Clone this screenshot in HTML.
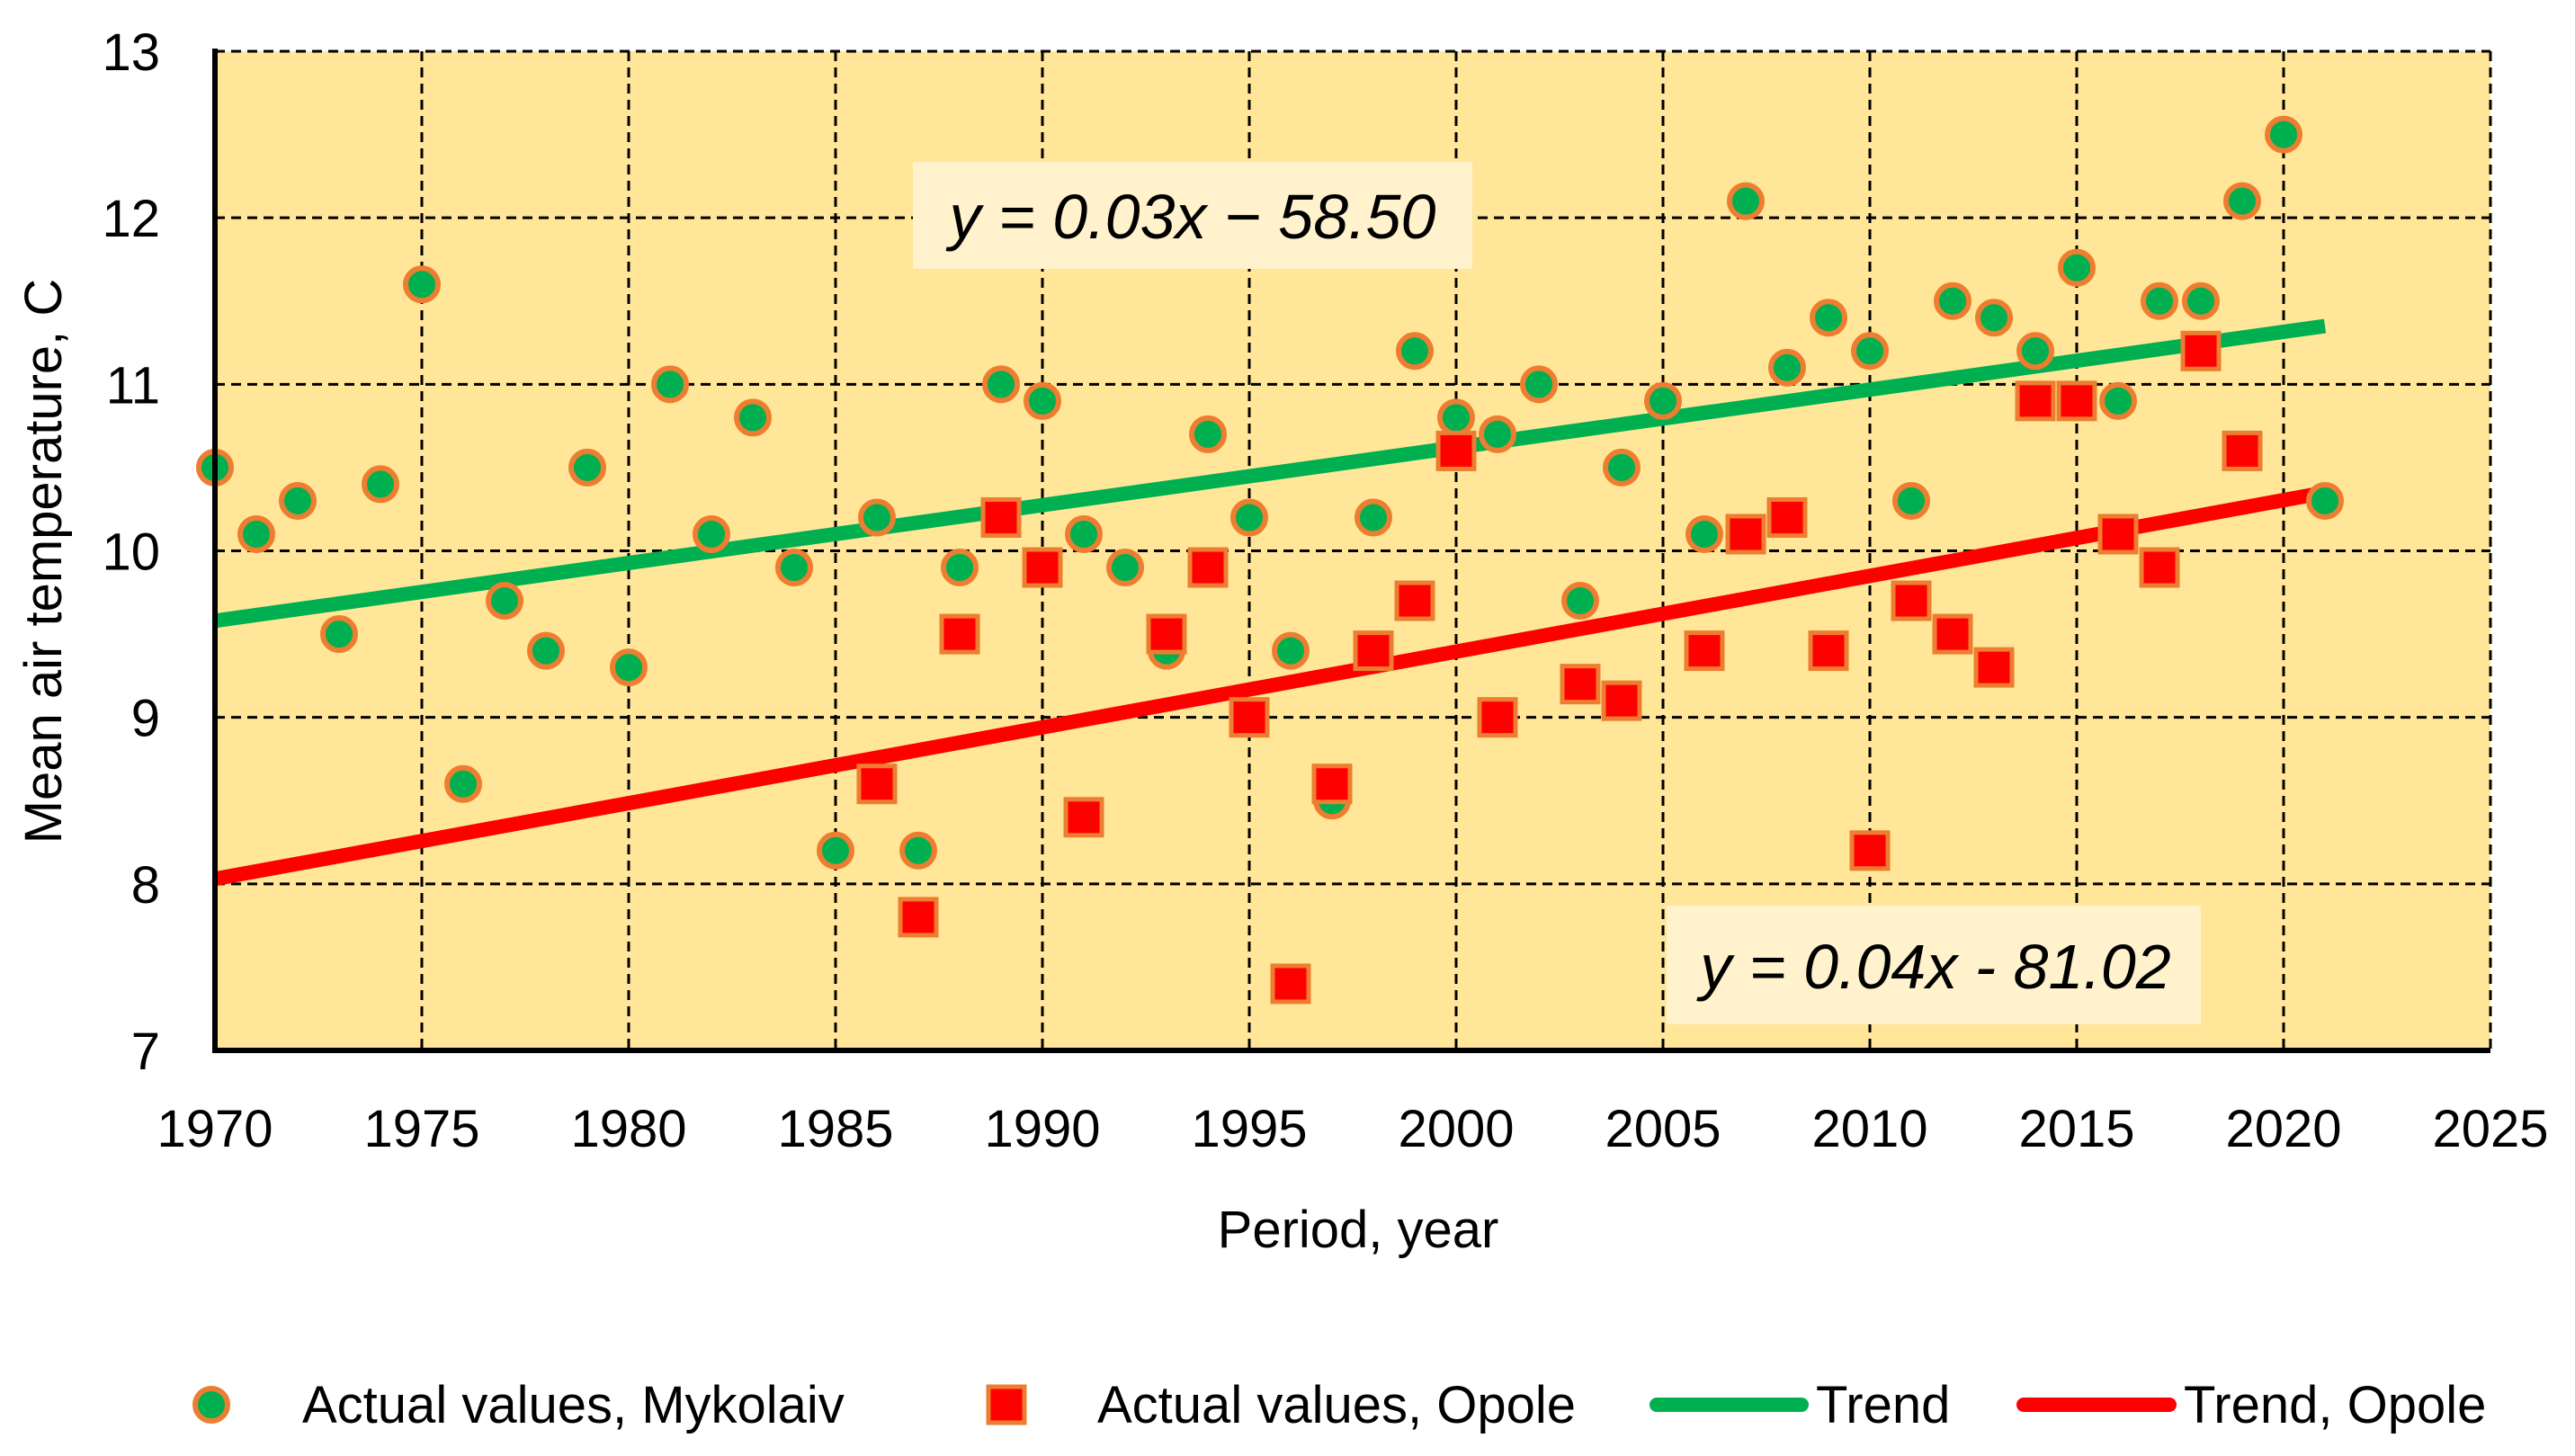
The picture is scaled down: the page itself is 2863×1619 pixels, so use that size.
<!DOCTYPE html>
<html><head><meta charset="utf-8"><style>
html,body{margin:0;padding:0;background:#fff}
svg{display:block;font-family:"Liberation Sans",sans-serif}
</style></head><body>
<svg id="chart" width="2863" height="1619" viewBox="0 0 2863 1619" xmlns="http://www.w3.org/2000/svg">
<rect x="239" y="57" width="2530" height="1111" fill="#FFE699"/>
<g id="grid"></g>
<g id="ticks"></g>
<g id="trends"></g>
<g id="marks"></g>
<line x1="239" y1="54" x2="239" y2="1171" stroke="#000" stroke-width="6"/>
<line x1="236" y1="1168" x2="2769" y2="1168" stroke="#000" stroke-width="6"/>
<g>
<rect x="1015" y="180" width="622" height="119" fill="#FFF2CC"/>
<text x="1326" y="265" font-size="70" font-style="italic" text-anchor="middle">y = 0.03x − 58.50</text>
</g>
<g>
<rect x="1853" y="1007" width="594" height="132" fill="#FFF2CC"/>
<text x="2152" y="1099" font-size="70" font-style="italic" text-anchor="middle">y = 0.04x - 81.02</text>
</g>
<text x="1510" y="1387" font-size="58" text-anchor="middle">Period, year</text>
<text transform="translate(68,624) rotate(-90)" font-size="58" text-anchor="middle">Mean air temperature, C</text>
<g>
<g>
<circle cx="235" cy="1562" r="18" fill="#00B050" stroke="#ED7D31" stroke-width="6"/>
<text x="336" y="1582" font-size="58">Actual values, Mykolaiv</text></g>
<g>
<rect x="1099" y="1542" width="40" height="40" fill="#FF0000" stroke="#ED7D31" stroke-width="5"/>
<text x="1220" y="1582" font-size="58">Actual values, Opole</text></g>
<g>
<line x1="1842" y1="1562" x2="2003" y2="1562" stroke="#00B050" stroke-width="16" stroke-linecap="round"/>
<text x="2019" y="1582" font-size="58">Trend</text></g>
<g>
<line x1="2250" y1="1562" x2="2412" y2="1562" stroke="#FF0000" stroke-width="16" stroke-linecap="round"/>
<text x="2428" y="1582" font-size="58">Trend, Opole</text></g>
</g>
</svg>
<script>
const xTicks=[1970,1975,1980,1985,1990,1995,2000,2005,2010,2015,2020,2025];
const yTicks=[7,8,9,10,11,12,13];
const mykYears=[1970,1971,1972,1973,1974,1975,1976,1977,1978,1979,1980,1981,1982,1983,1984,1985,1986,1987,1988,1989,1990,1991,1992,1993,1994,1995,1996,1997,1998,1999,2000,2001,2002,2003,2004,2005,2006,2007,2008,2009,2010,2011,2012,2013,2014,2015,2016,2017,2018,2019,2020,2021];
const mykTemps=[10.5,10.1,10.3,9.5,10.4,11.6,8.6,9.7,9.4,10.5,9.3,11.0,10.1,10.8,9.9,8.2,10.2,8.2,9.9,11.0,10.9,10.1,9.9,9.4,10.7,10.2,9.4,8.5,10.2,11.2,10.8,10.7,11.0,9.7,10.5,10.9,10.1,12.1,11.1,11.4,11.2,10.3,11.5,11.4,11.2,11.7,10.9,11.5,11.5,12.1,12.5,10.3];
const opoYears=[1986,1987,1988,1989,1990,1991,1993,1994,1995,1996,1997,1998,1999,2000,2001,2003,2004,2006,2007,2008,2009,2010,2011,2012,2013,2014,2015,2016,2017,2018,2019];
const opoTemps=[8.6,7.8,9.5,10.2,9.9,8.4,9.5,9.9,9.0,7.4,8.6,9.4,9.7,10.6,9.0,9.2,9.1,9.4,10.1,10.2,9.4,8.2,9.7,9.5,9.3,10.9,10.9,10.1,9.9,11.2,10.6];
const trendYears=[1970,2021];
const mykTrend=[9.58,11.35];
const opoTrend=[8.03,10.35];
const NS="http://www.w3.org/2000/svg";
const X=v=>239+(v-1970)*(2530/55);
const Y=v=>1168-(v-7)*(1111/6);
function mk(tag,attrs,parent){const e=document.createElementNS(NS,tag);for(const k in attrs)e.setAttribute(k,attrs[k]);parent.appendChild(e);return e;}
const grid=document.getElementById('grid'),ticks=document.getElementById('ticks'),trends=document.getElementById('trends'),marks=document.getElementById('marks');
xTicks.forEach(t=>{
  if(t>1970){const l=mk('line',{x1:X(t),y1:57,x2:X(t),y2:1168,stroke:'#000','stroke-width':3,'stroke-dasharray':'11 7'},grid);
  
  }
  const tx=mk('text',{x:X(t),y:1275,'font-size':58,'text-anchor':'middle'},ticks);tx.textContent=t;
  
  
});
yTicks.forEach(t=>{
  if(t>7){const l=mk('line',{x1:239,y1:Y(t),x2:2769,y2:Y(t),stroke:'#000','stroke-width':3,'stroke-dasharray':'11 7'},grid);
  
  }
  const tx=mk('text',{x:178,y:Y(t)+21,'font-size':58,'text-anchor':'end'},ticks);tx.textContent=t;
  
  
});
const g=mk('line',{x1:X(trendYears[0]),y1:Y(mykTrend[0]),x2:X(trendYears[1]),y2:Y(mykTrend[1]),stroke:'#00B050','stroke-width':16},trends);


const r=mk('line',{x1:X(trendYears[0]),y1:Y(opoTrend[0]),x2:X(trendYears[1]),y2:Y(opoTrend[1]),stroke:'#FF0000','stroke-width':16},trends);


mykYears.forEach((yr,i)=>{
  const c=mk('circle',{cx:X(yr),cy:Y(mykTemps[i]),r:18,fill:'#00B050',stroke:'#ED7D31','stroke-width':6},marks);
  
  
});
opoYears.forEach((yr,i)=>{
  const s=mk('rect',{x:X(yr)-20,y:Y(opoTemps[i])-20,width:40,height:40,fill:'#FF0000',stroke:'#ED7D31','stroke-width':5},marks);
  
  
});
</script>
</body></html>
